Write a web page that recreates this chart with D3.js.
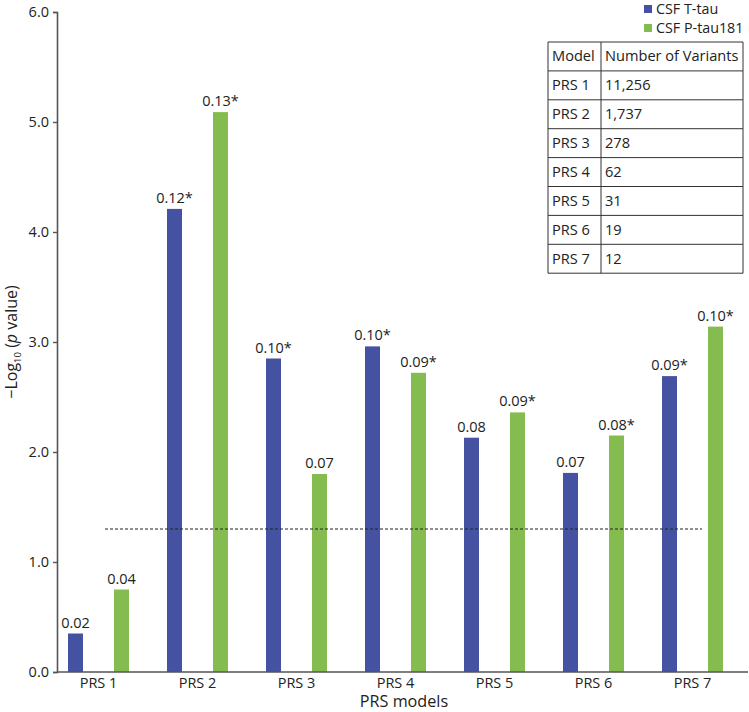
<!DOCTYPE html>
<html><head><meta charset="utf-8">
<script src="https://cdn.jsdelivr.net/npm/d3@7"></script>
<style>body{margin:0;background:#fff}svg{display:block;font-family:"Open Sans",sans-serif}</style>
</head><body><svg id="c" width="749" height="712"></svg>
<script>
const categories = ["PRS 1","PRS 2","PRS 3","PRS 4","PRS 5","PRS 6","PRS 7"];
const seriesNames = ["CSF T-tau","CSF P-tau181"];
const tTau = [0.35, 4.21, 2.85, 2.96, 2.13, 1.81, 2.69];
const pTau = [0.75, 5.09, 1.80, 2.72, 2.36, 2.15, 3.14];
const tTauLabels = ["0.02","0.12*","0.10*","0.10*","0.08","0.07","0.09*"];
const pTauLabels = ["0.04","0.13*","0.07","0.09*","0.09*","0.08*","0.10*"];
const yTicks = [0,1,2,3,4,5,6];
const threshold = 1.30;
const tableHeader = ["Model","Number of Variants"];
const tableModels = ["PRS 1","PRS 2","PRS 3","PRS 4","PRS 5","PRS 6","PRS 7"];
const tableVariants = ["11,256","1,737","278","62","31","19","12"];

const colors = ["#4452a1","#85bc4f"];
const svg = d3.select("#c");
const axisX = 57, baseY = 672;
const y = d3.scaleLinear().domain([0,6]).range([672,12]);
const x0 = d3.scaleBand().domain(categories).range([49,742]);
const x1 = d3.scaleBand().domain(seriesNames).range([0, x0.bandwidth()]).paddingInner(0.674).paddingOuter(0.413);

const series = [
  {name: seriesNames[0], vals: tTau, labels: tTauLabels},
  {name: seriesNames[1], vals: pTau, labels: pTauLabels}
];

// bars
series.forEach((s, si) => {
  const g = svg.append("g");
  g.selectAll("rect").data(categories).join("rect")
    .attr("x", c => x0(c) + x1(s.name))
    .attr("width", x1.bandwidth())
    .attr("y", (c,i) => y(s.vals[i]))
    .attr("height", (c,i) => y(0) - y(s.vals[i]))
    .attr("fill", colors[si]);
  g.selectAll("text").data(categories).join("text")
    .attr("x", c => x0(c) + x1(s.name) + x1.bandwidth()/2)
    .attr("y", (c,i) => y(s.vals[i]) - 6)
    .attr("text-anchor","middle")
    .attr("font-size", 14.5)
    .attr("fill","#222")
    .text((c,i) => s.labels[i]);
});

// threshold line
svg.append("line")
  .attr("x1", 105).attr("x2", 702)
  .attr("y1", y(threshold)).attr("y2", y(threshold))
  .attr("stroke","#222").attr("stroke-width",1.2).attr("stroke-dasharray","3,2");

// y axis
const yAxis = d3.axisLeft(y).tickValues(yTicks).tickFormat(d3.format(".1f")).tickSize(4).tickSizeOuter(4);
const yg = svg.append("g").attr("transform",`translate(${axisX},0)`).call(yAxis);
yg.select(".domain").attr("stroke","#555").attr("stroke-width",1.6);
yg.selectAll(".tick line").attr("stroke","#555").attr("stroke-width",1.4);
yg.selectAll(".tick text").attr("font-size",14.5).attr("fill","#222").attr("font-family","Open Sans, sans-serif").attr("x",-8);

// x axis
const xAxis = d3.axisBottom(x0).tickSize(0).tickSizeOuter(0);
const xg = svg.append("g").attr("transform",`translate(0,${baseY})`).call(xAxis);
xg.select(".domain").remove();
xg.append("line").attr("x1",axisX).attr("x2",748).attr("y1",0).attr("y2",0).attr("stroke","#555").attr("stroke-width",1.6);
xg.selectAll(".tick text").attr("font-size",14.5).attr("fill","#222").attr("font-family","Open Sans, sans-serif").attr("dy","0").attr("y",15.5);

// axis titles
svg.append("text").attr("x",404).attr("y",707).attr("text-anchor","middle").attr("font-size",16.2).attr("fill","#222").text("PRS models");
const yt = svg.append("text").attr("transform","translate(17,342) rotate(-90)").attr("text-anchor","middle").attr("font-size",16).attr("fill","#222");
yt.append("tspan").text("\u2212Log");
yt.append("tspan").attr("font-size",9.5).attr("dy",4).text("10");
yt.append("tspan").attr("dy",-4).text(" (");
yt.append("tspan").attr("font-style","italic").text("p");
yt.append("tspan").text(" value)");

// legend
const lg = svg.append("g");
seriesNames.forEach((n,i) => {
  lg.append("rect").attr("x",644).attr("y",5 + i*19).attr("width",8).attr("height",8).attr("fill",colors[i]);
  lg.append("text").attr("x",656).attr("y",14 + i*19).attr("font-size",14.3).attr("fill","#222").text(n);
});

// table
const tx0 = 548, tx1 = 601, tx2 = 743, ty0 = 42, rh = 28.9;
const rows = [tableHeader].concat(tableModels.map((m,i) => [m, tableVariants[i]]));
const tg = svg.append("g");
rows.forEach((r,i) => {
  tg.append("text").attr("x",tx0+4).attr("y",ty0 + i*rh + rh/2 + 5).attr("font-size",14.6).attr("fill","#222").text(r[0]);
  tg.append("text").attr("x",tx1+4).attr("y",ty0 + i*rh + rh/2 + 5).attr("font-size",14.6).attr("fill","#222").text(r[1]);
});
for (let i=0;i<=rows.length;i++){
  tg.append("line").attr("x1",tx0).attr("x2",tx2).attr("y1",ty0+i*rh).attr("y2",ty0+i*rh).attr("stroke","#333").attr("stroke-width",1);
}
[tx0,tx1,tx2].forEach(xx => tg.append("line").attr("x1",xx).attr("x2",xx).attr("y1",ty0).attr("y2",ty0+rows.length*rh).attr("stroke","#333").attr("stroke-width",1));
</script></body></html>
